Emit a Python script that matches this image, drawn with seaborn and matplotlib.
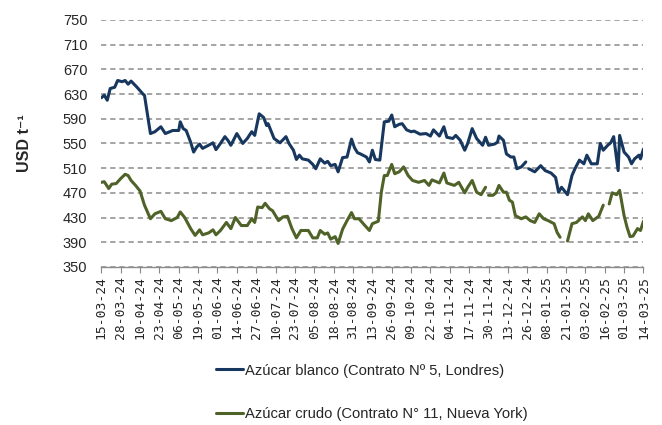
import numpy as np
import pandas as pd
import matplotlib
matplotlib.use('Agg')
import matplotlib.pyplot as plt
import seaborn as sns

inicio = pd.Timestamp('2024-03-15')
fin = pd.Timestamp('2025-03-14')

# dias desde el 15-03-24 y precios (USD/t); nan = dato faltante (hueco en la linea)
dias_blanco = [0, 2, 4, 6, 9, 11, 14, 16, 18, 20, 24, 28, 29, 33, 36, 40, 43, 48, 52, 53,
               55, 57, 60, 62, 64, 66, 68, 72, 75, 77, 80, 83, 85, 87, 91, 95, 98, 101, 103, 106,
               109, 111, 112, 114, 116, 120, 124, 126, 129, 131, 133, 135, 139, 142, 144, 147, 150, 152, 154, 157,
               159, 162, 165, 168, 170, 172, 174, 178, 180, 182, 184, 187, 190, 193, 195, 197, 200, 202, 205, 208,
               210, 214, 218, 221, 223, 227, 230, 232, 236, 238, 241, 244, 246, 249, 252, 256, 258, 260, 264, 266,
               267, 270, 272, 275, 277, 279, 282, 285, 286, 287, 291, 295, 298, 302, 305, 307, 309, 313, 316, 318,
               321, 324, 326, 329, 333, 335, 337, 340, 342, 344, 347, 348, 351, 354, 356, 358, 361, 362, 364]
blanco = [624, 628, 620, 639, 641, 652, 650, 652, 646, 651, 641, 630, 628, 566, 569, 577, 566, 571, 571, 585,
          574, 571, 552, 536, 544, 549, 542, 547, 551, 540, 550, 561, 555, 547, 566, 550, 558, 569, 563, 598,
          592, 579, 582, 570, 558, 551, 561, 550, 539, 524, 531, 525, 523, 516, 509, 525, 518, 521, 514, 516,
          504, 527, 528, 557, 543, 535, 533, 528, 520, 539, 524, 523, 585, 586, 596, 577, 581, 582, 572, 569,
          570, 565, 566, 562, 572, 562, 577, 560, 558, 563, 555, 539, 550, 574, 558, 547, 560, 547, 549, 552,
          562, 555, 533, 528, 528, 509, 512, 520, np.nan, 509, 504, 514, 506, 502, 495, 471, 479, 467, 498, 509,
          523, 517, 531, 517, 517, 550, 539, 547, 551, 561, 506, 563, 536, 528, 517, 525, 531, 525, 541]

dias_crudo = [0, 2, 5, 7, 10, 13, 16, 18, 20, 23, 26, 29, 33, 36, 40, 43, 47, 51, 53, 56,
              60, 63, 66, 68, 72, 75, 77, 80, 84, 87, 90, 94, 98, 101, 103, 105, 108, 110, 113, 115,
              119, 122, 125, 128, 131, 134, 139, 142, 145, 147, 150, 152, 154, 157, 159, 162, 165, 168, 170, 173,
              177, 180, 182, 186, 188, 190, 192, 195, 197, 200, 203, 206, 209, 213, 217, 220, 222, 227, 230, 232,
              237, 240, 244, 246, 249, 252, 255, 258, 259, 260, 263, 265, 267, 270, 272, 274, 276, 278, 282, 285,
              288, 291, 294, 297, 300, 304, 306, 308, 310, 313, 316, 319, 323, 325, 327, 330, 334, 337, 339, 341,
              343, 346, 348, 351, 353, 355, 357, 360, 362, 364]
crudo = [487, 488, 477, 484, 485, 493, 500, 498, 490, 482, 473, 450, 428, 436, 440, 428, 425, 430, 439, 430,
         412, 401, 410, 402, 405, 410, 402, 409, 422, 412, 430, 417, 417, 428, 422, 447, 446, 453, 444, 441,
         425, 431, 432, 412, 397, 409, 409, 397, 397, 409, 403, 405, 395, 399, 388, 411, 425, 438, 428, 428,
         417, 409, 420, 424, 471, 498, 498, 516, 501, 504, 512, 498, 490, 487, 490, 482, 491, 486, 502, 486,
         482, 487, 470, 479, 490, 471, 467, 479, np.nan, 466, 466, 470, 482, 471, 471, 458, 455, 433, 428, 431,
         425, 422, 436, 428, 425, 420, 406, 398, np.nan, 392, 420, 422, 431, 425, 436, 425, 432, 450, np.nan, 452,
         470, 467, 474, 433, 414, 399, 400, 412, 409, 424]

nombres = ['Azúcar blanco (Contrato Nº 5, Londres)', 'Azúcar crudo (Contrato N° 11, Nueva York)']
colores = ['#17375E', '#4F6228']


def armar_serie(dias, valores, nombre):
    df = pd.DataFrame({'fecha': inicio + pd.to_timedelta(dias, unit='D'), 'precio': valores})
    df['tramo'] = df['precio'].isna().cumsum()
    df['serie'] = nombre
    return df.dropna()


data = pd.concat([armar_serie(dias_blanco, blanco, nombres[0]),
                  armar_serie(dias_crudo, crudo, nombres[1])], ignore_index=True)
data['tramo'] = data['serie'] + '_' + data['tramo'].astype(str)

sns.set_style('white')
plt.rcParams['font.family'] = ['Liberation Sans', 'DejaVu Sans']

fig, ax = plt.subplots(figsize=(6.62, 4.25), dpi=100)
fig.subplots_adjust(left=0.153, right=0.972, top=0.953, bottom=0.372)

sns.lineplot(data=data, x='fecha', y='precio', hue='serie', units='tramo', estimator=None,
             palette=dict(zip(nombres, colores)), linewidth=2.2, ax=ax)

ax.set_ylim(350, 750)
ax.set_yticks(range(350, 751, 40))
ax.set_xlim(inicio, fin)
ticks = pd.date_range(inicio, fin, freq='13D')
ax.set_xticks(ticks)
ax.set_xticklabels([t.strftime('%d-%m-%y') for t in ticks], rotation=90,
                   family=['DejaVu Sans Mono', 'Liberation Mono'], fontsize=9.4)
ax.tick_params(axis='y', length=0, labelsize=10.5, pad=10)
ax.tick_params(axis='x', length=4.5, width=0.8, color='#888888', direction='out', bottom=True, pad=2)

ax.yaxis.grid(True, color='#8c8c8c', linestyle=(0, (3.5, 2.5)), linewidth=1.1)
ax.set_axisbelow(True)
for s in ['left', 'right', 'top']:
    ax.spines[s].set_visible(False)
ax.spines['bottom'].set_color('#8c8c8c')
ax.spines['bottom'].set_linewidth(1.0)

ax.set_xlabel('')
ax.set_ylabel('USD t⁻¹', fontweight='bold', fontsize=11.5, labelpad=22)

handles, labels = ax.get_legend_handles_labels()
ax.get_legend().remove()
fig.legend(handles, labels, loc='center left', bbox_to_anchor=(0.327, 0.077), frameon=False,
           fontsize=10.6, handlelength=1.8, handletextpad=0.12, labelspacing=2.0,
           borderpad=0, borderaxespad=0)

plt.savefig('out.png', dpi=100)
plt.close()
